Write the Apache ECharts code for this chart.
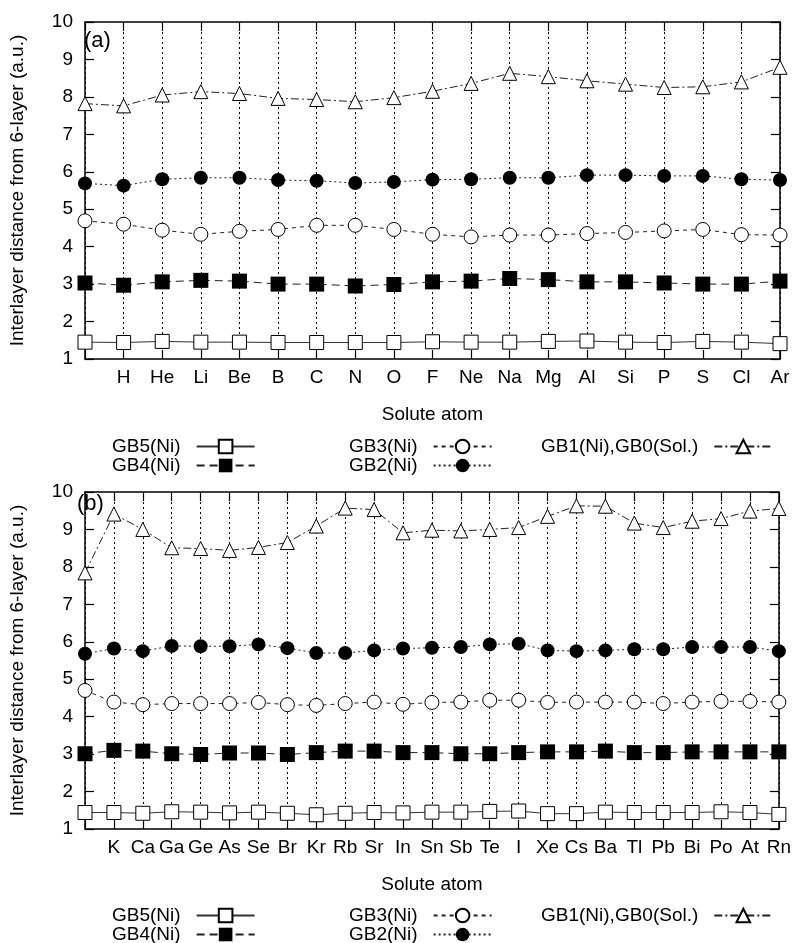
<!DOCTYPE html>
<html><head><meta charset="utf-8">
<script src="https://cdn.jsdelivr.net/npm/echarts@6/dist/echarts.min.js"></script>
<style>html,body{margin:0;padding:0;background:#fff}#c{width:794px;height:943px}</style>
</head><body><div id="c"></div>
<script>
const catsA = ['', 'H','He','Li','Be','B','C','N','O','F','Ne','Na','Mg','Al','Si','P','S','Cl','Ar'];
const gb1A = [7.82,7.76,8.05,8.14,8.09,7.96,7.93,7.87,7.98,8.15,8.36,8.63,8.54,8.43,8.34,8.25,8.27,8.40,8.79];
const gb2A = [5.69,5.63,5.80,5.84,5.84,5.78,5.76,5.70,5.73,5.79,5.80,5.84,5.84,5.91,5.91,5.89,5.89,5.80,5.78];
const gb3A = [4.69,4.60,4.44,4.33,4.41,4.46,4.57,4.57,4.46,4.33,4.26,4.31,4.31,4.35,4.38,4.42,4.46,4.32,4.31];
const gb4A = [3.03,2.97,3.06,3.10,3.08,3.00,3.00,2.95,2.99,3.06,3.08,3.15,3.12,3.06,3.06,3.03,3.00,3.00,3.08];
const gb5A = [1.45,1.44,1.47,1.45,1.45,1.44,1.44,1.44,1.44,1.46,1.45,1.45,1.47,1.48,1.45,1.44,1.47,1.45,1.41];

const catsB = ['', 'K','Ca','Ga','Ge','As','Se','Br','Kr','Rb','Sr','In','Sn','Sb','Te','I','Xe','Cs','Ba','Tl','Pb','Bi','Po','At','Rn'];
const gb1B = [7.84,9.41,9.00,8.51,8.49,8.44,8.52,8.65,9.09,9.57,9.53,8.91,8.98,8.96,9.00,9.05,9.35,9.63,9.62,9.17,9.05,9.22,9.29,9.49,9.56];
const gb2B = [5.68,5.82,5.75,5.89,5.88,5.88,5.93,5.83,5.70,5.70,5.77,5.82,5.84,5.86,5.93,5.95,5.77,5.75,5.77,5.80,5.80,5.86,5.86,5.86,5.75];
const gb3B = [4.70,4.39,4.32,4.35,4.35,4.35,4.38,4.32,4.30,4.35,4.39,4.33,4.38,4.39,4.44,4.44,4.38,4.39,4.39,4.39,4.35,4.39,4.41,4.41,4.39];
const gb4B = [3.01,3.10,3.08,3.01,2.99,3.03,3.03,2.99,3.04,3.08,3.08,3.04,3.04,3.01,3.01,3.04,3.06,3.06,3.08,3.04,3.04,3.06,3.06,3.06,3.06];
const gb5B = [1.44,1.44,1.42,1.46,1.45,1.43,1.45,1.42,1.38,1.42,1.44,1.43,1.45,1.45,1.47,1.48,1.41,1.41,1.45,1.44,1.44,1.44,1.46,1.44,1.39];

const yMin = 1, yMax = 10, yStep = 1;
const yTitle = 'Interlayer distance from 6-layer (a.u.)';
const xTitle = 'Solute atom';
const panelLabels = ['(a)', '(b)'];
const names = ['GB5(Ni)', 'GB4(Ni)', 'GB3(Ni)', 'GB2(Ni)', 'GB1(Ni),GB0(Sol.)'];

const FONT = 'Liberation Sans';
const FS = 19;
const txt = {fontFamily: FONT, fontSize: FS, color: '#000'};

const styles = [
  {symbol: 'rect', symbolSize: 14, line: {type: 'solid', width: 1, color: '#333'}, item: {color: '#fff', borderColor: '#000', borderWidth: 1}},
  {symbol: 'rect', symbolSize: 15, line: {type: [8, 5], width: 1, color: '#222'}, item: {color: '#000', borderColor: '#000', borderWidth: 0}},
  {symbol: 'circle', symbolSize: 14, line: {type: [4, 4], width: 1, color: '#222'}, item: {color: '#fff', borderColor: '#000', borderWidth: 1}},
  {symbol: 'circle', symbolSize: 14, line: {type: [2, 3], width: 1, color: '#222'}, item: {color: '#000', borderColor: '#000', borderWidth: 0}},
  {symbol: 'triangle', symbolSize: 14, line: {type: [8, 3, 2, 3], width: 1, color: '#222'}, item: {color: '#fff', borderColor: '#000', borderWidth: 1}}
];

const grids = [
  {left: 77, right: 14, top: 22, height: 337},
  {left: 77, right: 14, top: 492, height: 337}
];

function xAxes(cats, gi) {
  return [
    {type: 'category', gridIndex: gi, data: cats, boundaryGap: false, position: 'bottom',
     name: xTitle, nameLocation: 'middle', nameGap: 46, nameTextStyle: txt,
     axisLine: {lineStyle: {color: '#000', width: 1.5}},
     axisTick: {inside: true, length: 9, interval: 0, lineStyle: {color: '#000', width: 1.2}},
     axisLabel: Object.assign({interval: 0, margin: 9}, txt),
     splitLine: {show: true, interval: 0, lineStyle: {color: '#000', type: [2, 3], width: 1}}},
    {type: 'category', gridIndex: gi, data: cats, boundaryGap: false, position: 'top',
     axisLine: {lineStyle: {color: '#000', width: 1.5}},
     axisTick: {inside: true, length: 9, interval: 0, lineStyle: {color: '#000', width: 1.2}},
     axisLabel: {show: false}, splitLine: {show: false}}
  ];
}
function yAxes(gi) {
  return [
    {type: 'value', gridIndex: gi, min: yMin, max: yMax, interval: yStep, position: 'left',
     name: yTitle, nameLocation: 'middle', nameGap: 58, nameTextStyle: txt,
     axisLine: {show: true, lineStyle: {color: '#000', width: 1.5}},
     axisTick: {show: true, inside: true, length: 9, lineStyle: {color: '#000', width: 1.2}},
     axisLabel: Object.assign({margin: 12}, txt),
     splitLine: {show: false}},
    {type: 'value', gridIndex: gi, min: yMin, max: yMax, interval: yStep, position: 'right',
     axisLine: {show: true, lineStyle: {color: '#000', width: 1.5}},
     axisTick: {show: true, inside: true, length: 9, lineStyle: {color: '#000', width: 1.2}},
     axisLabel: {show: false}, splitLine: {show: false}}
  ];
}

const dataA = [gb5A, gb4A, gb3A, gb2A, gb1A];
const dataB = [gb5B, gb4B, gb3B, gb2B, gb1B];
const series = [];
[dataA, dataB].forEach((set, gi) => {
  set.forEach((d, i) => {
    const s = styles[i];
    series.push({
      type: 'line', name: names[i], data: d,
      xAxisIndex: gi * 2, yAxisIndex: gi * 2,
      symbol: s.symbol, symbolSize: s.symbolSize, showAllSymbol: true,
      lineStyle: s.line, itemStyle: s.item, clip: false, z: 3 + i,
      emphasis: {disabled: true}
    });
  });
});

function legendsFor(top) {
  const cols = [
    {left: 112, data: [names[0], names[1]]},
    {left: 349, data: [names[2], names[3]]},
    {left: 541, data: [names[4]]}
  ];
  return cols.map(c => ({
    left: c.left, top: top, height: 60, orient: 'vertical', align: 'right',
    itemWidth: 58, itemHeight: 17, itemGap: 0, selectedMode: false, padding: 0,
    data: c.data,
    textStyle: Object.assign({padding: [0, 11, 0, 0], lineHeight: 18}, txt)
  }));
}

const chart = echarts.init(document.getElementById('c'), null, {renderer: 'canvas'});
chart.setOption({
  animation: false,
  backgroundColor: '#fff',
  title: [
    {text: panelLabels[0], left: 84, top: 30, padding: 0, textStyle: {fontFamily: FONT, fontSize: 22, fontWeight: 'normal', color: '#000'}},
    {text: panelLabels[1], left: 77, top: 493, padding: 0, textStyle: {fontFamily: FONT, fontSize: 22, fontWeight: 'normal', color: '#000'}}
  ],
  grid: grids,
  xAxis: xAxes(catsA, 0).concat(xAxes(catsB, 1)),
  yAxis: yAxes(0).concat(yAxes(1)),
  legend: legendsFor(437).concat(legendsFor(906)),
  series: series
});
</script></body></html>
